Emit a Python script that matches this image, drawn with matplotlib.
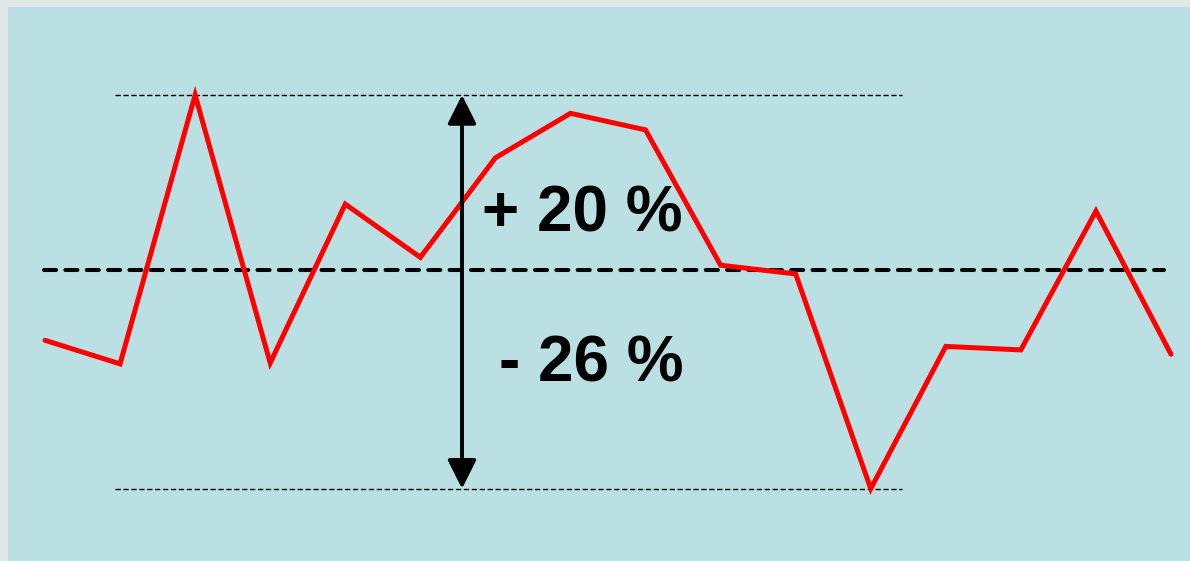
import numpy as np
import matplotlib
matplotlib.use("Agg")
import matplotlib.pyplot as plt
from matplotlib.patches import Rectangle

# Data (index values, mean ~100)
periods = list(range(16))
values = [91.9, 89.2, 120.0, 89.3, 107.5, 101.4, 112.8, 117.9,
          116.0, 100.5, 99.5, 74.9, 91.2, 90.8, 106.7, 90.3]
up_label = "+ 20 %"
down_label = "- 26 %"

W, H = 1190, 561
fig = plt.figure(figsize=(W / 100, H / 100), dpi=100)
fig.patch.set_facecolor("#E3E7E8")
fig.patches.append(Rectangle((8 / W, 0), 1, (H - 7) / H, transform=fig.transFigure,
                             facecolor="#BAE0E3", edgecolor="none", zorder=-5))

ax = fig.add_axes([0, 0, 1, 1])
ax.set_facecolor("none")
ax.set_zorder(1)
ax.set_xlim(-0.5994, 15.253)
ax.set_ylim(66.62, 130.88)
ax.axis("off")

vals = np.array(values)
mean = vals.mean()
vmax = vals.max()
vmin = vals.min()

# Mean dashed line
ax.plot([-0.01, 14.9], [mean, mean], color="black", lw=2.9,
        dashes=(3.0, 2.3), dash_capstyle="round", zorder=2)

# Thin dotted lines at max and min
for v in (vmax, vmin):
    ax.plot([0.93, 11.42], [v, v], color="black", lw=1.0,
            dashes=(3.8, 1.9), zorder=2)

# Red series
ax.plot(periods, values, color="#FF0000", lw=3.6, solid_joinstyle="miter",
        solid_capstyle="round", zorder=3)

# Double arrow
ax_x = 5.555
ax.annotate("", xy=(ax_x, vmax), xytext=(ax_x, vmin),
            arrowprops=dict(arrowstyle="<|-|>", color="black", lw=2.8,
                            mutation_scale=44, shrinkA=0, shrinkB=0),
            zorder=4)

# Labels
ax.text(482 / W, 1 - 231 / H, up_label, fontsize=46, fontweight="bold",
        family="Liberation Sans", ha="left", va="baseline", color="black",
        transform=fig.transFigure, zorder=5)
ax.text(499 / W, 1 - 382 / H, down_label, fontsize=46, fontweight="bold",
        family="Liberation Sans", ha="left", va="baseline", color="black",
        transform=fig.transFigure, zorder=5)

fig.savefig("out.png", dpi=100, facecolor=fig.get_facecolor())
